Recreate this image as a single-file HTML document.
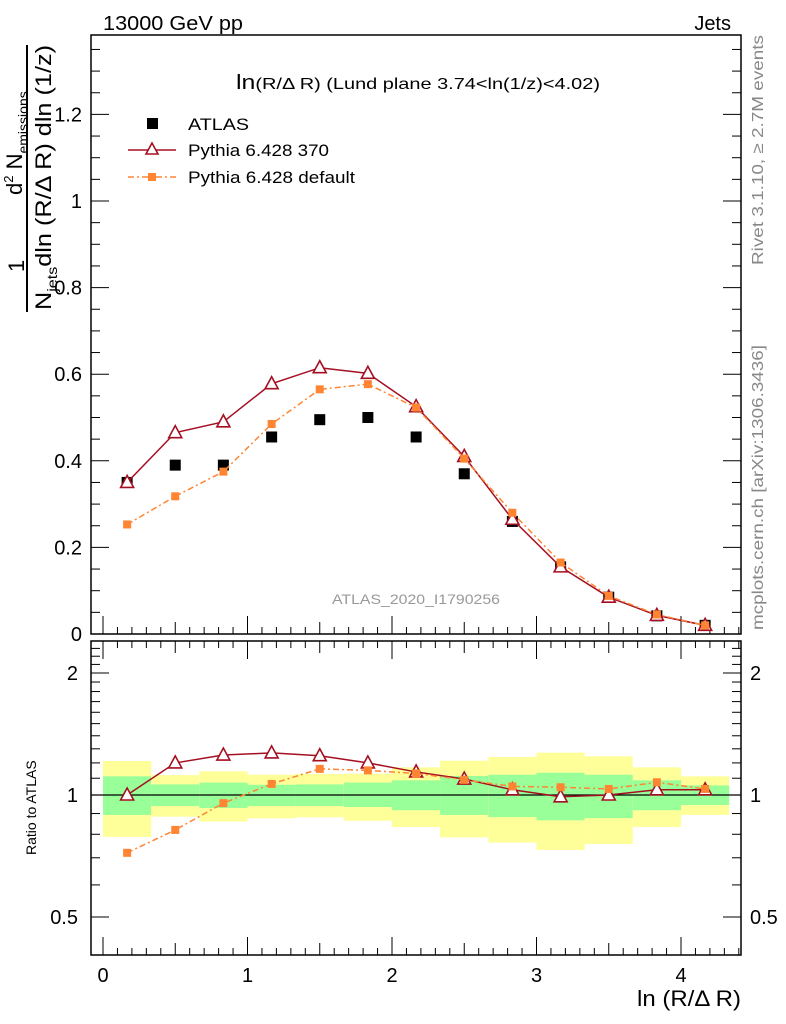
<!DOCTYPE html>
<html><head><meta charset="utf-8"><style>
html,body{margin:0;padding:0;background:#fff;}
svg{display:block;font-family:"Liberation Sans",sans-serif;}
</style></head><body>
<svg id="c" width="786" height="1024" viewBox="0 0 786 1024" xmlns="http://www.w3.org/2000/svg">
<g id="bands"></g>
<g id="frames"></g>
<g id="ticks"></g>
<g id="series"></g>
<text x="103" y="30" font-size="20" textLength="140" lengthAdjust="spacingAndGlyphs">13000 GeV pp</text>
<text x="731" y="30" font-size="20" text-anchor="end">Jets</text>
<text x="236" y="89" font-size="16" textLength="364" lengthAdjust="spacingAndGlyphs"><tspan font-size="20">ln</tspan>(R/Δ R) (Lund plane 3.74&lt;ln(1/z)&lt;4.02)</text>
<text x="332" y="604" font-size="14" fill="#999" textLength="168" lengthAdjust="spacingAndGlyphs">ATLAS_2020_I1790256</text>
<text transform="translate(763,265) rotate(-90)" font-size="16" fill="#888" textLength="230" lengthAdjust="spacingAndGlyphs">Rivet 3.1.10, ≥ 2.7M events</text>
<text transform="translate(763,630) rotate(-90)" font-size="16" fill="#888" textLength="285" lengthAdjust="spacingAndGlyphs">mcplots.cern.ch [arXiv:1306.3436]</text>
<g>
<text transform="translate(24,272) rotate(-90)" font-size="22">1</text>
<line x1="27" y1="45" x2="27" y2="312" stroke="#000" stroke-width="2"/>
<text transform="translate(22,195) rotate(-90)" font-size="22">d<tspan font-size="13" dy="-9">2</tspan><tspan dy="9"> N</tspan><tspan font-size="14" dy="6">emissions</tspan></text>
<text transform="translate(51,310) rotate(-90)" font-size="22" textLength="265" lengthAdjust="spacingAndGlyphs">N<tspan font-size="14" dy="6">jets</tspan><tspan dy="-6">dln (R/Δ R) dln (1/z)</tspan></text>
</g>
<text transform="translate(36,855) rotate(-90)" font-size="14">Ratio to ATLAS</text>
<text x="741" y="1006" font-size="22" text-anchor="end" textLength="104" lengthAdjust="spacingAndGlyphs">ln (R/Δ R)</text>
<g>
<rect x="147" y="118" width="11" height="11" fill="#000"/>
<text x="188" y="130" font-size="17" textLength="61" lengthAdjust="spacingAndGlyphs">ATLAS</text>
<line x1="128" y1="150" x2="176" y2="150" stroke="#a50f22" stroke-width="1.5"/>
<polygon points="152,143 146,154 158,154" fill="#fff" stroke="#a50f22" stroke-width="1.6"/>
<text x="188" y="156" font-size="17" textLength="141" lengthAdjust="spacingAndGlyphs">Pythia 6.428 370</text>
<line x1="128" y1="177" x2="176" y2="177" stroke="#ff8533" stroke-width="1.5" stroke-dasharray="6,3,2,3"/>
<rect x="148" y="173" width="8" height="8" fill="#ff8533"/>
<text x="188" y="183" font-size="17" textLength="167" lengthAdjust="spacingAndGlyphs">Pythia 6.428 default</text>
</g>
</svg>
<script>
const binEdgesLow = [0,0.333,0.667,1,1.333,1.667,2,2.333,2.667,3,3.333,3.667,4];
const binCenters = [0.167,0.5,0.833,1.167,1.5,1.833,2.167,2.5,2.833,3.167,3.5,3.833,4.167];
const atlasValues = [0.35,0.39,0.39,0.455,0.495,0.50,0.455,0.37,0.26,0.155,0.085,0.042,0.02];
const py370Values = [0.35,0.465,0.49,0.578,0.615,0.602,0.525,0.41,0.265,0.155,0.085,0.043,0.02];
const pyDefValues = [0.253,0.318,0.375,0.485,0.565,0.577,0.523,0.405,0.28,0.165,0.088,0.045,0.02];
const py370Ratio = [1.0,1.2,1.255,1.27,1.25,1.2,1.14,1.095,1.03,0.99,1.0,1.03,1.03];
const pyDefRatio = [0.72,0.82,0.955,1.065,1.16,1.15,1.13,1.09,1.05,1.045,1.035,1.075,1.035];
const totHigh = [1.213,1.120,1.144,1.122,1.127,1.129,1.170,1.215,1.241,1.272,1.246,1.170,1.112];
const totLow = [0.788,0.884,0.86,0.876,0.881,0.864,0.834,0.786,0.763,0.732,0.757,0.834,0.893];
const statHigh = [1.112,1.062,1.073,1.060,1.062,1.073,1.087,1.114,1.122,1.135,1.122,1.087,1.056];
const statLow = [0.893,0.939,0.929,0.939,0.939,0.934,0.917,0.893,0.882,0.866,0.877,0.917,0.945];
const mainTicks = [0,0.2,0.4,0.6,0.8,1,1.2];
const mainTickLabels = ["0","0.2","0.4","0.6","0.8","1","1.2"];
const ratioTicks = [0.5,1,2];
const ratioTickLabels = ["0.5","1","2"];
const xTicks = [0,1,2,3,4];
const xTickLabels = ["0","1","2","3","4"];

const NS="http://www.w3.org/2000/svg";
const L=91,R=741,MT=35,MB=634,RT=641,RB=955;
const binW=1/3;
function X(v){return 103+144.5*v;}
function Y(v){return 634-433*v;}
function YR(r){return 795-122*Math.log2(r);}
function mk(tag,attrs,parent){const e=document.createElementNS(NS,tag);for(const k in attrs)e.setAttribute(k,attrs[k]);parent.appendChild(e);return e;}
const bands=document.getElementById('bands'),frames=document.getElementById('frames'),ticks=document.getElementById('ticks'),ser=document.getElementById('series');

binEdgesLow.forEach((lo,i)=>{
  const x0=X(lo),x1=X(lo+binW);
  let e=mk('rect',{x:x0,y:YR(totHigh[i]),width:x1-x0,height:YR(totLow[i])-YR(totHigh[i]),fill:'#ffff99'},bands);
  
  
  e=mk('rect',{x:x0,y:YR(statHigh[i]),width:x1-x0,height:YR(statLow[i])-YR(statHigh[i]),fill:'#99ff99'},bands);
  
  
});
mk('line',{x1:L,y1:YR(1),x2:R,y2:YR(1),stroke:'#000','stroke-width':1.3},bands);

mk('rect',{x:L,y:MT,width:R-L,height:MB-MT,fill:'none',stroke:'#000','stroke-width':1.5},frames);
mk('rect',{x:L,y:RT,width:R-L,height:RB-RT,fill:'none',stroke:'#000','stroke-width':1.5},frames);

for(let v=0;v<=1.36;v+=0.05){
  const y=Y(v);if(y<MT)break;
  const major=Math.abs(v/0.2-Math.round(v/0.2))<1e-6;const len=major?18:9;
  mk('line',{x1:L,y1:y,x2:L+len,y2:y,stroke:'#000'},ticks);
  mk('line',{x1:R,y1:y,x2:R-len,y2:y,stroke:'#000'},ticks);
}
mainTicks.forEach((v,i)=>{const t=mk('text',{x:82,y:Y(v)+7,'font-size':20,'text-anchor':'end'},ticks);t.textContent=mainTickLabels[i];

});
for(let k=0;k<=44;k++){
  const v=k/10;const x=X(v);if(x>R)break;const major=k%10==0;const len=major?18:(k%5==0?12:7);
  mk('line',{x1:x,y1:MB,x2:x,y2:MB-len,stroke:'#000'},ticks);
  mk('line',{x1:x,y1:RB,x2:x,y2:RB-len,stroke:'#000'},ticks);
  mk('line',{x1:x,y1:RT,x2:x,y2:RT+len,stroke:'#000'},ticks);
}
xTicks.forEach((v,i)=>{const t=mk('text',{x:X(v),y:982,'font-size':20,'text-anchor':'middle'},ticks);t.textContent=xTickLabels[i];

});
const rMinor=[0.4,0.6,0.7,0.8,0.9,1.1,1.2,1.3,1.4,1.5,1.6,1.7,1.8,1.9,2.1,2.2,2.3];
rMinor.forEach(r=>{const y=YR(r);if(y<RT||y>RB)return;mk('line',{x1:L,y1:y,x2:L+9,y2:y,stroke:'#000'},ticks);mk('line',{x1:R,y1:y,x2:R-9,y2:y,stroke:'#000'},ticks);});
ratioTicks.forEach((r,i)=>{const y=YR(r);mk('line',{x1:L,y1:y,x2:L+18,y2:y,stroke:'#000'},ticks);mk('line',{x1:R,y1:y,x2:R-18,y2:y,stroke:'#000'},ticks);
const t=mk('text',{x:78,y:y+7,'font-size':20,'text-anchor':'end'},ticks);t.textContent=ratioTickLabels[i];


const t2=mk('text',{x:750,y:y+7,'font-size':20},ticks);t2.textContent=ratioTickLabels[i];

});

function line(vals,fy,color,dash,name){
  const pts=binCenters.map((c,i)=>X(c)+','+fy(vals[i])).join(' ');
  const e=mk('polyline',{points:pts,fill:'none',stroke:color,'stroke-width':1.5},ser);
  if(dash)e.setAttribute('stroke-dasharray',dash);
  
  
}
function tri(vals,fy,name){vals.forEach((v,i)=>{const x=X(binCenters[i]),y=fy(v);
  const e=mk('polygon',{points:`${x},${y-7} ${x-6.5},${y+5} ${x+6.5},${y+5}`,fill:'#fff',stroke:'#a50f22','stroke-width':1.6},ser);
  
  });}
function sq(vals,fy,size,color,name){vals.forEach((v,i)=>{const x=X(binCenters[i]),y=fy(v);
  const e=mk('rect',{x:x-size/2,y:y-size/2,width:size,height:size,fill:color},ser);
  
  });}

sq(atlasValues,Y,11,'#000','atlas-point');
line(py370Values,Y,'#a50f22',null,'pythia-370-line');
tri(py370Values,Y,'pythia-370-point');
line(pyDefValues,Y,'#ff8533','6,3,2,3','pythia-default-line');
sq(pyDefValues,Y,8,'#ff8533','pythia-default-point');

line(py370Ratio,YR,'#a50f22',null,'pythia-370-ratio-line');
tri(py370Ratio,YR,'pythia-370-ratio-point');
line(pyDefRatio,YR,'#ff8533','6,3,2,3','pythia-default-ratio-line');
sq(pyDefRatio,YR,8,'#ff8533','pythia-default-ratio-point');
</script>
</body></html>
